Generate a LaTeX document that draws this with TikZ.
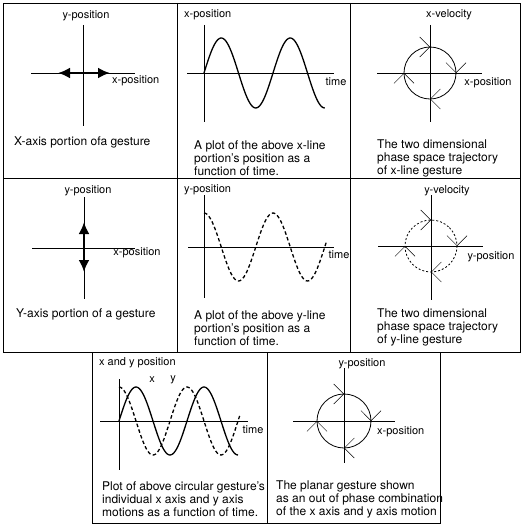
\documentclass[tikz,border=0pt]{standalone}
\usepackage{fontspec}
\setmainfont{TeX Gyre Heros}
\usetikzlibrary{arrows.meta,decorations.markings}

\begin{document}
\begin{tikzpicture}[
  x=1pt,y=-1pt,
  every node/.style={font=\fontsize{11}{12}\selectfont,inner sep=0pt},
  note/.style={anchor=west,align=left,font=\fontsize{12}{13}\selectfont},
  grid/.style={line width=0.9pt},
  ax/.style={line width=0.8pt},
  wave/.style={line width=1.3pt,smooth,samples=90},
  dwave/.style={wave,dash pattern=on 3.5pt off 2.5pt},
  move/.style={line width=2.8pt,{Latex[length=12pt,width=11pt]}-{Latex[length=12pt,width=11pt]}},
  chev/.tip={Straight Barb[length=10pt,width=20pt,line width=0.5pt]},
  orbit/.style={line width=0.8pt,postaction={decorate},
    decoration={markings,
      mark=at position 0.125 with {\arrow{chev}},
      mark=at position 0.375 with {\arrow{chev}},
      mark=at position 0.625 with {\arrow{chev}},
      mark=at position 0.875 with {\arrow{chev}}}}
]
\useasboundingbox (0,0) rectangle (522,527);

\draw[grid] (3,3) rectangle (520,352);
\draw[grid] (177,3) -- (177,352) (350,3) -- (350,352) (3,178) -- (520,178);
\draw[grid] (92,352) rectangle (440,523) (267,352) -- (267,523);

\draw[ax] (83,25) -- (83,126);
\draw[ax] (31,73) -- (135,73);
\draw[move] (58,73) -- (110,73);
\node (ya) at (86,16) {y-position};
\node[anchor=west] (xa) at (112,81) {x-position};
\node[note] (ca) at (14,142) {X-axis portion ofa gesture};

\draw[ax] (204,25) -- (204,122);
\draw[ax] (187,73) -- (334,73);
\draw[wave] plot[domain=0:630] ({204+\x/360*69},{73-35*sin(\x)});
\node[anchor=west] (xb) at (184,15) {x-position};
\node (tb) at (336,82) {time};
\node[note] (cb) at (194,158) {A plot of the above x-line\\portion's position as a\\function of time.};

\draw[ax] (430,25) -- (430,122);
\draw[ax] (377,73) -- (482,73);
\draw[orbit] (430,73) ++(45:26pt) arc[start angle=45,end angle=-315,radius=26pt];
\node (vc) at (449,15) {x-velocity};
\node (xc) at (488,83) {x-position};
\node[note] (cc) at (377,158) {The two dimensional\\phase space trajectory\\of x-line gesture};

\draw[ax] (84,197) -- (84,299);
\draw[ax] (32,248) -- (135,248);
\draw[move] (84,222) -- (84,272);
\node (yd) at (88,191) {y-position};
\node (xd) at (137,253) {x-position};
\node[note] (cd) at (16,314) {Y-axis portion of a gesture};

\draw[ax] (204,195) -- (204,298);
\draw[ax] (188,247) -- (334,247);
\draw[dwave] plot[domain=0:640] ({204+\x/360*69},{247-34*cos(\x)});
\node[anchor=west] (ye) at (184,190) {y-position};
\node (te) at (339,255) {time};
\node[note] (ce) at (194,328) {A plot of the above y-line\\portion's position as a\\function of time.};

\draw[ax] (431,195) -- (431,300);
\draw[ax] (378,246) -- (483,246);
\draw[orbit,dash pattern=on 2pt off 2pt] (431,246) ++(45:26pt) arc[start angle=45,end angle=-315,radius=26pt];
\node (vf) at (447,191) {y-velocity};
\node (yf) at (491,257) {y-position};
\node[note] (cf) at (377,327) {The two dimensional\\phase space trajectory\\of y-line gesture};

\draw[ax] (119,379) -- (119,470);
\draw[ax] (100,421) -- (248,421);
\draw[wave] plot[domain=0:630] ({119+\x/360*68},{421-34*sin(\x)});
\draw[dwave] plot[domain=0:640] ({119+\x/360*68},{421-34*cos(\x)});
\node[anchor=west] (pg) at (99,363) {x and y position};
\node (xg) at (152,380) {x};
\node (yg) at (173,380) {y};
\node (tg) at (253,430) {time};
\node[note] (cg) at (102,499) {Plot of above circular gesture's\\individual x axis and y axis\\motions as a function of time.};

\draw[ax] (344,368) -- (344,463);
\draw[ax] (293,421) -- (395,421);
\draw[orbit] (344,421) ++(45:27pt) arc[start angle=45,end angle=-315,radius=27pt];
\node (yh) at (362,364) {y-position};
\node[anchor=west] (xh) at (377,432) {x-position};
\node[note] (ch) at (276,499) {The planar gesture shown\\as an out of phase combination\\of the x axis and y axis motion};
\end{tikzpicture}
\end{document}
